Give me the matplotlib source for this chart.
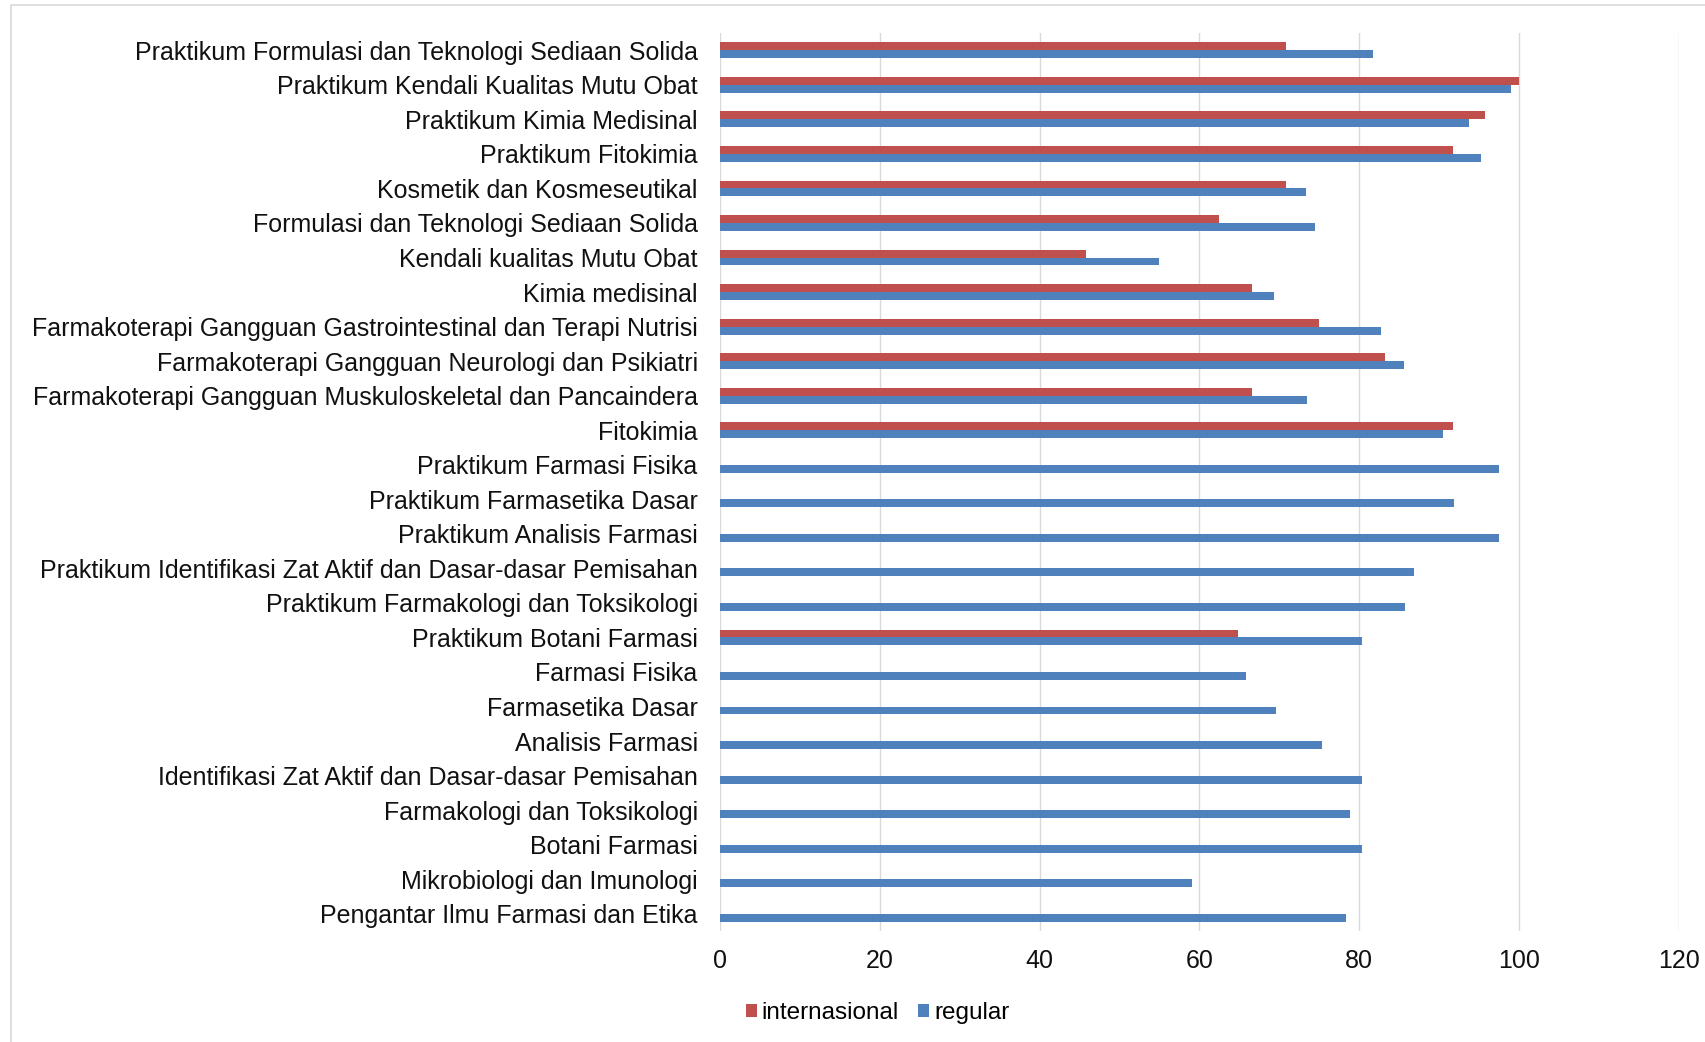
import matplotlib.pyplot as plt
import numpy as np
from matplotlib.patches import Rectangle

plt.rcParams['font.family'] = ['Liberation Sans', 'DejaVu Sans']

# categories from top to bottom
courses = [
    "Praktikum Formulasi dan Teknologi Sediaan Solida",
    "Praktikum Kendali Kualitas Mutu Obat",
    "Praktikum Kimia Medisinal",
    "Praktikum Fitokimia",
    "Kosmetik dan Kosmeseutikal",
    "Formulasi dan Teknologi Sediaan Solida",
    "Kendali kualitas Mutu Obat",
    "Kimia medisinal",
    "Farmakoterapi Gangguan Gastrointestinal dan Terapi Nutrisi",
    "Farmakoterapi Gangguan Neurologi dan Psikiatri",
    "Farmakoterapi Gangguan Muskuloskeletal dan Pancaindera",
    "Fitokimia",
    "Praktikum Farmasi Fisika",
    "Praktikum Farmasetika Dasar",
    "Praktikum Analisis Farmasi",
    "Praktikum Identifikasi Zat Aktif dan Dasar-dasar Pemisahan",
    "Praktikum Farmakologi dan Toksikologi",
    "Praktikum Botani Farmasi",
    "Farmasi Fisika",
    "Farmasetika Dasar",
    "Analisis Farmasi",
    "Identifikasi Zat Aktif dan Dasar-dasar Pemisahan",
    "Farmakologi dan Toksikologi",
    "Botani Farmasi",
    "Mikrobiologi dan Imunologi",
    "Pengantar Ilmu Farmasi dan Etika",
]

internasional = [70.8, 100, 95.8, 91.7, 70.8, 62.5, 45.8, 66.6, 75.0, 83.3, 66.6, 91.7,
                 0, 0, 0, 0, 0, 64.9, 0, 0, 0, 0, 0, 0, 0, 0]
regular = [81.8, 99.0, 93.8, 95.2, 73.3, 74.5, 54.9, 69.3, 82.7, 85.6, 73.5, 90.5,
           97.5, 91.9, 97.5, 86.9, 85.8, 80.4, 65.9, 69.6, 75.3, 80.4, 78.8, 80.4, 59.1, 78.4]

fig = plt.figure(figsize=(17.06, 10.42), dpi=100)
ax = fig.add_axes([0.422, 0.1065, 0.562, 0.8618])

y = np.arange(len(courses))
h = 0.23
ax.barh(y - h / 2, internasional, h, color='#C0504D', label='internasional', zorder=3)
ax.barh(y + h / 2, regular, h, color='#4F81BD', label='regular', zorder=3)

ax.set_ylim(len(courses) - 0.5, -0.5)
ax.set_xlim(0, 120)
ax.set_xticks(range(0, 121, 20))
ax.set_yticks(y)
ax.set_yticklabels(courses)
ax.tick_params(axis='y', length=0, pad=16, labelsize=18, colors='#111111')
ax.tick_params(axis='x', length=0, pad=13, labelsize=18, colors='#111111')
ax.grid(axis='x', color='#D9D9D9', linewidth=1, zorder=0)
for s in ax.spines.values():
    s.set_visible(False)

ax.legend(loc='center left', bbox_to_anchor=(724 / 1706, 1 - 1013 / 1042),
          bbox_transform=fig.transFigure, ncol=2, frameon=False, fontsize=17.5,
          handlelength=0.45, handleheight=0.45, handletextpad=0.2, columnspacing=0.8)

# faint chart-area border
fig.patches.append(Rectangle((11 / 1706, -0.1), 1.2, 1.1 - 5 / 1042, transform=fig.transFigure,
                             fill=False, edgecolor='#D9D9D9', linewidth=1.2))

fig.savefig('out.png', dpi=100, facecolor='white')
